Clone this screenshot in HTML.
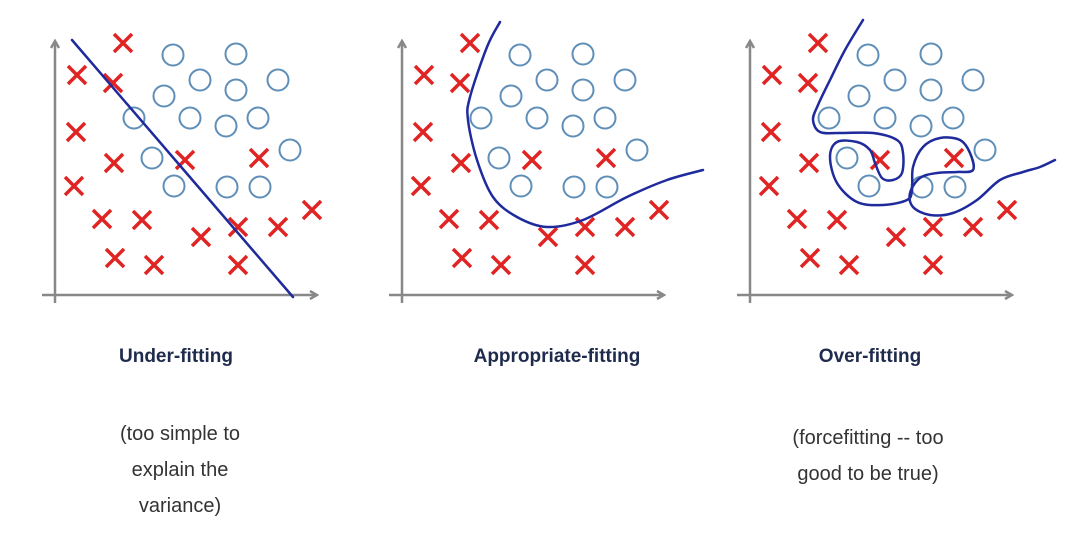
<!DOCTYPE html>
<html><head><meta charset="utf-8"><style>
html,body{margin:0;padding:0;background:#fff;width:1072px;height:556px;overflow:hidden}
svg{display:block}
.t{font-family:"Liberation Sans",sans-serif;font-weight:bold;font-size:19px;fill:#1f2b4d}
.c{font-family:"Liberation Sans",sans-serif;font-size:20px;fill:#333}
</style></head><body>
<svg id="chart" width="1072" height="556" viewBox="0 0 1072 556">
<defs><marker id="ar" markerWidth="10" markerHeight="10" refX="8" refY="5" orient="auto" markerUnits="userSpaceOnUse"><path d="M1,1 L8,5 L1,9" fill="none" stroke="#888" stroke-width="2.5"/></marker></defs>
<text class="t" x="176" y="362" text-anchor="middle">Under-fitting</text>
<text class="t" x="557" y="362" text-anchor="middle">Appropriate-fitting</text>
<text class="t" x="870" y="362" text-anchor="middle">Over-fitting</text>
<g>
<text class="c" x="180" y="440" text-anchor="middle">(too simple to</text>
<text class="c" x="180" y="476" text-anchor="middle">explain the</text>
<text class="c" x="180" y="512" text-anchor="middle">variance)</text></g>
<g>
<text class="c" x="868" y="444" text-anchor="middle">(forcefitting -- too</text>
<text class="c" x="868" y="480" text-anchor="middle">good to be true)</text></g>
</svg>
<script>
// data coordinates: offset from each panel's origin (x right, y up)
const crossX=[68,22,58,21,59,130,204,19,47,87,146,183,223,257,60,99,183];
const crossY=[252,220,212,163,132,135,137,109,76,75,58,68,68,85,37,30,30];
const circleX=[118,181,145,223,181,109,79,135,171,203,235,97,119,172,205];
const circleY=[240,241,215,215,205,199,177,177,169,177,145,137,109,108,108];
const panelOffsets=[0,347,695];
const panelNames=['under-fitting','appropriate-fitting','over-fitting'];
const curve1X=[17,238];
const curve1Y=[255,-2];
const curve2X=[98,85,68,66,75,91,115,145,181,225,265,301];
const curve2Y=[273,248,198,175,135,98,78,68,75,98,115,125];
const curve3X=[113,95,80,68,63,70,90,123,147,153,152,143,132,125,120,107,87,80,87,107,133,157,162,163,173,190,210,220,223,207,187,170,160,163,180,203,227,250,273,290,305];
const curve3Y=[275,245,215,190,175,163,162,162,155,142,122,115,117,132,145,153,153,138,112,93,90,95,105,128,148,157,155,142,125,123,122,117,102,88,80,82,95,115,123,128,135];
const ox=55, oy=295;
function sx(p,v){return ox+panelOffsets[p]+v;}
function sy(v){return oy-v;}
const svg=document.getElementById('chart');
const NS='http://www.w3.org/2000/svg';
function mk(t,a){const e=document.createElementNS(NS,t);for(const k in a)e.setAttribute(k,a[k]);svg.appendChild(e);return e;}
function smooth(pts){let d='M'+pts[0][0]+','+pts[0][1];for(let i=0;i<pts.length-1;i++){const p0=pts[Math.max(0,i-1)],p1=pts[i],p2=pts[i+1],p3=pts[Math.min(pts.length-1,i+2)];d+=' C'+(p1[0]+(p2[0]-p0[0])/6)+','+(p1[1]+(p2[1]-p0[1])/6)+' '+(p2[0]-(p3[0]-p1[0])/6)+','+(p2[1]-(p3[1]-p1[1])/6)+' '+p2[0]+','+p2[1];}return d;}
const curvesX=[curve1X,curve2X,curve3X], curvesY=[curve1Y,curve2Y,curve3Y];
for(let p=0;p<3;p++){
  const ya=mk('line',{x1:sx(p,0),y1:sy(-8),x2:sx(p,0),y2:sy(254),stroke:'#888','stroke-width':2.5,'marker-end':'url(#ar)'});
  
  
  const xa=mk('line',{x1:sx(p,-13),y1:sy(0),x2:sx(p,262),y2:sy(0),stroke:'#888','stroke-width':2.5,'marker-end':'url(#ar)'});
  
  
  for(let i=0;i<circleX.length;i++){
    const c=mk('circle',{cx:sx(p,circleX[i]),cy:sy(circleY[i]),r:10.5,fill:'none',stroke:'#5f8fb8','stroke-width':2});
    
    
  }
  for(let i=0;i<crossX.length;i++){
    const x=sx(p,crossX[i]),y=sy(crossY[i]),s=9;
    const g=mk('path',{d:`M${x-s},${y-s}L${x+s},${y+s}M${x+s},${y-s}L${x-s},${y+s}`,stroke:'#e02424','stroke-width':3.5,fill:'none'});
    
    
  }
  const pts=curvesX[p].map((v,i)=>[sx(p,v),sy(curvesY[p][i])]);
  const cv=mk('path',{d:smooth(pts),fill:'none',stroke:'#1f2a9c','stroke-width':2.5,'stroke-linecap':'round'});
  
  
}
</script>
</body></html>
